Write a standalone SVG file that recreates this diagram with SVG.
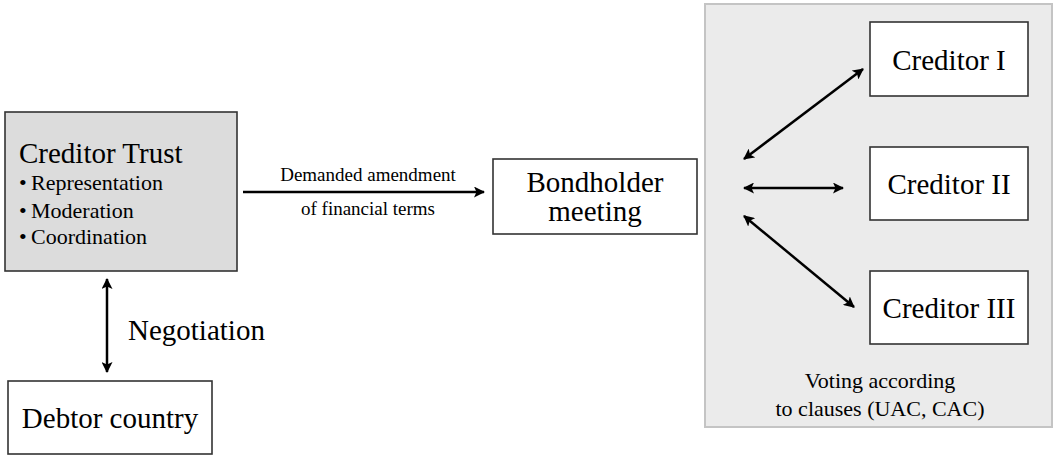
<svg xmlns="http://www.w3.org/2000/svg" width="1055" height="455" viewBox="0 0 1055 455">
<style>
text{font-family:"Liberation Serif","Times New Roman",serif;fill:#000}
.box{fill:#fff;stroke:#333;stroke-width:1.6}
.conn{stroke:#000;stroke-width:2.5;fill:none;marker-end:url(#ah);marker-start:url(#ah)}
.big{font-size:29px}
.mid{font-size:22px}
.sm{font-size:19px}
</style>
<defs>
<marker id="ah" markerUnits="userSpaceOnUse" markerWidth="12" markerHeight="11" refX="10" refY="5.5" orient="auto-start-reverse">
<path d="M0,0 L11,5.5 L0,11 L2.5,5.5 z" fill="#000"/>
</marker>
</defs>
<rect width="1055" height="455" fill="#fff"/>
<g id="panel">
<rect x="705" y="4" width="347" height="423" fill="#ebebeb" stroke="#c4c4c4" stroke-width="2"/>
<text class="mid" x="880" y="388" text-anchor="middle">Voting according</text>
<text class="mid" x="880" y="416" text-anchor="middle">to clauses (UAC, CAC)</text>
</g>
<g id="creditor-trust">
<rect x="5" y="112" width="232" height="159" fill="#dcdcdc" stroke="#333" stroke-width="1.6"/>
<text class="big" x="19" y="163">Creditor Trust</text>
<text class="mid" x="19" y="190">•</text><text class="mid" x="31" y="190">Representation</text>
<text class="mid" x="19" y="218">•</text><text class="mid" x="31" y="218">Moderation</text>
<text class="mid" x="19" y="244">•</text><text class="mid" x="31" y="244">Coordination</text>
</g>
<g id="debtor-country">
<rect class="box" x="8" y="381" width="204" height="73"/>
<text class="big" x="110" y="428" text-anchor="middle">Debtor country</text>
</g>
<g id="bondholder-meeting">
<rect class="box" x="493" y="159" width="204" height="75"/>
<text class="big" x="595" y="192" text-anchor="middle">Bondholder</text>
<text class="big" x="595" y="221" text-anchor="middle">meeting</text>
</g>
<g id="creditor-1">
<rect class="box" x="870" y="22" width="158" height="74"/>
<text class="big" x="949" y="70" text-anchor="middle">Creditor I</text>
</g>
<g id="creditor-2">
<rect class="box" x="870" y="147" width="158" height="73"/>
<text class="big" x="949" y="194" text-anchor="middle">Creditor II</text>
</g>
<g id="creditor-3">
<rect class="box" x="870" y="271" width="158" height="73"/>
<text class="big" x="949" y="318" text-anchor="middle">Creditor III</text>
</g>
<g id="connectors">
<line x1="243" y1="192" x2="484" y2="192" stroke="#000" stroke-width="2.5" marker-end="url(#ah)"/>
<text class="sm" x="368" y="181" text-anchor="middle">Demanded amendment</text>
<text class="sm" x="368" y="215" text-anchor="middle">of financial terms</text>
<line class="conn" x1="107" y1="279" x2="107" y2="372"/>
<text class="big" x="128" y="340">Negotiation</text>
<line class="conn" x1="744" y1="159" x2="863" y2="69"/>
<line class="conn" x1="744" y1="188" x2="843" y2="188"/>
<line class="conn" x1="744" y1="216" x2="854" y2="307"/>
</g>
</svg>
